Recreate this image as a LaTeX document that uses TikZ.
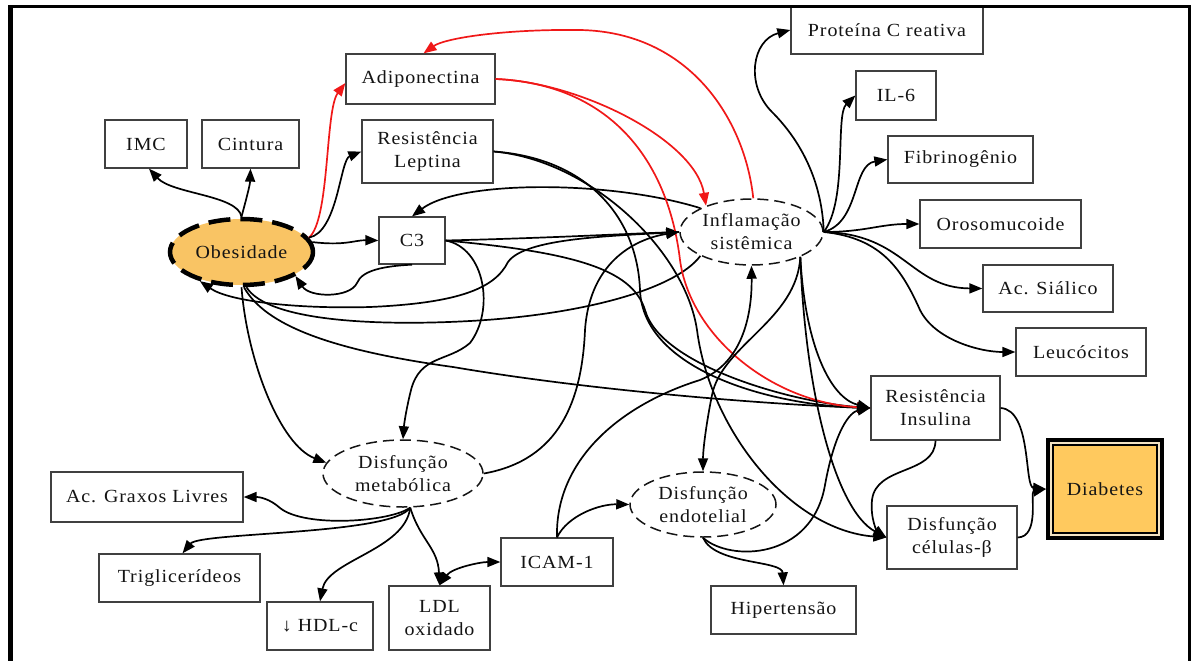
\documentclass[tikz,border=0pt]{standalone}
\usepackage{fontspec}
\setmainfont{Liberation Serif}[FakeStretch=1.08,LetterSpace=5]
\usetikzlibrary{arrows.meta,shapes.geometric,calc}
\definecolor{obfill}{HTML}{F9C464}
\definecolor{dbfill}{HTML}{FFC95E}
\definecolor{dbcream}{HTML}{F3E3C3}
\definecolor{bgray}{HTML}{404040}
\definecolor{txt}{HTML}{141414}
\definecolor{redl}{HTML}{F01818}
\begin{document}
\begin{tikzpicture}[x=1pt,y=-1pt,
  fs/.style={font=\fontsize{18.5}{23}\selectfont, text=txt},
  boxn/.style={fs, draw=bgray, line width=1.3pt, fill=white, inner sep=0pt, align=center},
  dell/.style={fs, ellipse, draw=txt, line width=1.5pt, dash pattern=on 11pt off 6pt, inner sep=0pt, align=center},
  edge/.style={line width=1.7pt, draw=black, -{Triangle[length=13pt,width=10pt]}},
  redge/.style={edge, draw=redl},
  plainedge/.style={line width=1.7pt, draw=black},
  dedge/.style={line width=1.7pt, draw=black, {Triangle[length=13pt,width=10pt]}-{Triangle[length=13pt,width=10pt]}},
]
\useasboundingbox (0,0) rectangle (1191,661);

% nodes
\node[boxn, minimum width=149, minimum height=50] (adip) at (420.5,79) {Adiponectina};
\node[boxn, minimum width=131, minimum height=63] (rlep) at (427.5,151.5) {Resistência\\Leptina};
\node[boxn, minimum width=66, minimum height=47] (c3) at (412,240.5) {C3};
\node[boxn, minimum width=82, minimum height=48] (imc) at (146,144) {IMC};
\node[boxn, minimum width=97, minimum height=48] (cint) at (250.5,144) {Cintura};
\node[fs, ellipse, draw=black, fill=obfill, line width=4.5pt, dash pattern=on 22pt off 10pt, minimum width=143, minimum height=66, inner sep=0pt] (obes) at (241.5,252) {Obesidade};
\node[boxn, minimum width=192, minimum height=48] (pcr) at (887,30) {Proteína C reativa};
\node[boxn, minimum width=80, minimum height=49] (il6) at (896,95.5) {IL-6};
\node[boxn, minimum width=145, minimum height=47] (fib) at (960.5,159.5) {Fibrinogênio};
\node[boxn, minimum width=161, minimum height=48] (oros) at (1000.5,224) {Orosomucoide};
\node[boxn, minimum width=130, minimum height=47] (acs) at (1048,288.5) {Ac. Siálico};
\node[boxn, minimum width=130, minimum height=48] (leuc) at (1081,352) {Leucócitos};
\node[boxn, minimum width=129, minimum height=64] (ri) at (935.5,408) {Resistência\\Insulina};
\node[draw=black, line width=4pt, fill=dbcream, minimum width=114, minimum height=98, inner sep=0pt] (diabo) at (1105,489) {};
\node[boxn, draw=black, line width=1.5pt, fill=dbfill, minimum width=104, minimum height=88] (diab) at (1105,489) {Diabetes};
\node[boxn, minimum width=130, minimum height=63] (dcb) at (952,537.5) {Disfunção\\células-β};
\node[boxn, minimum width=145, minimum height=48] (hip) at (783.5,610) {Hipertensão};
\node[boxn, minimum width=112, minimum height=48] (icam) at (557,562) {ICAM-1};
\node[boxn, minimum width=101, minimum height=64] (ldl) at (439.5,618) {LDL\\oxidado};
\node[boxn, minimum width=106, minimum height=48] (hdl) at (320,626) {↓ HDL-c};
\node[boxn, minimum width=161, minimum height=48] (trig) at (179.5,578) {Triglicerídeos};
\node[boxn, minimum width=192, minimum height=50] (agl) at (147,497) {Ac. Graxos Livres};
\node[dell, minimum width=160, minimum height=67] (dm) at (403,473.5) {Disfunção\\metabólica};
\node[dell, minimum width=143, minimum height=66] (infl) at (751.5,232) {Inflamação\\sistêmica};
\node[dell, minimum width=146, minimum height=65] (de) at (703,504.5) {Disfunção\\endotelial};

% edges from Obesidade
\draw[edge] (obes.north) .. controls (238,195) and (172,194) .. ($(imc.south)+(3,0)$);
\draw[edge] (obes.north) .. controls (246,200) and (250,185) .. (cint.south);
\draw[redge] (obes.12) .. controls (330,220) and (325,110) .. ($(adip.west)+(0,4)$);
\draw[edge] (obes.12) .. controls (338,232) and (340,160) .. (rlep.west);
\draw[edge] (obes.8) .. controls (345,246) and (355,240) .. (c3.west);
\draw[edge] (c3.south) .. controls (385,266) and (362,270) .. (357,283) .. controls (350,298) and (310,298) .. (obes.-24);
\draw[edge] (infl.west) .. controls (610,236) and (525,238) .. (508,262) .. controls (495,288) and (460,303) .. (370,307) .. controls (300,309) and (230,302) .. (obes.-145);
\draw[plainedge] (obes.-82) .. controls (268,322) and (380,326) .. (470,321) .. controls (580,315) and (675,290) .. (infl.-155);
\draw[edge] (obes.-86) .. controls (265,325) and (330,350) .. (453,367) .. controls (600,392) and (780,405) .. (ri.west);
\draw[edge] (obes.-90) .. controls (247,360) and (280,445) .. (dm.172);

% C3
\draw[edge] (c3.east) .. controls (485,248) and (495,310) .. (470,343) .. controls (448,362) and (420,355) .. (411,390) .. controls (406,410) and (404,425) .. (dm.north);
\draw[edge] (c3.east) .. controls (550,238) and (620,234) .. (infl.west);
\draw[edge] (c3.east) .. controls (570,252) and (632,268) .. (645,310) .. controls (660,365) and (790,402) .. (ri.west);
\draw[edge] (infl.155) .. controls (610,180) and (460,180) .. (c3.north);

% Resistencia Leptina
\draw[edge] (rlep.east) .. controls (585,158) and (637,215) .. (640,290) .. controls (643,370) and (770,405) .. (ri.west);
\draw[edge] (rlep.east) .. controls (590,160) and (685,250) .. (697,330) .. controls (710,430) and (790,530) .. (dcb.west);

% red adiponectina
\draw[redge] (infl.87) .. controls (745,120) and (690,32) .. (580,30) .. controls (505,29) and (445,38) .. ($(adip.north)+(3,0)$);
\draw[redge] (adip.east) .. controls (580,82) and (695,140) .. (infl.150);
\draw[redge] (adip.east) .. controls (610,84) and (668,160) .. (680,260) .. controls (690,335) and (770,402) .. (ri.west);

% inflamacao fan
\draw[edge] (infl.east) .. controls (822,180) and (800,140) .. (772,112) .. controls (745,85) and (752,40) .. (pcr.west);
\draw[edge] (infl.east) .. controls (848,200) and (835,115) .. (il6.west);
\draw[edge] (infl.east) .. controls (860,222) and (852,165) .. (fib.west);
\draw[edge] (infl.east) .. controls (865,232) and (880,224) .. (oros.west);
\draw[edge] (infl.east) .. controls (905,234) and (910,288) .. (acs.west);
\draw[edge] (infl.east) .. controls (882,238) and (902,270) .. (920,310) .. controls (935,340) and (980,352) .. (leuc.west);
\draw[edge] (infl.-27) .. controls (797,320) and (722,345) .. (712,395) .. controls (706,425) and (703,450) .. (de.north);
\draw[edge] (infl.-27) .. controls (805,345) and (830,398) .. (ri.west);
\draw[edge] (infl.-27) .. controls (805,390) and (835,510) .. (dcb.west);

% metabolic / endothelial
\draw[edge] (dm.east) .. controls (560,460) and (582,400) .. (585,330) .. controls (590,258) and (640,238) .. (infl.west);
\draw[edge] (icam.north) .. controls (555,460) and (620,405) .. (700,380) .. controls (745,362) and (752,310) .. (infl.south);
\draw[edge] (icam.north) .. controls (568,515) and (600,504) .. (de.west);
\draw[dedge] (ldl.north) .. controls (452,568) and (480,562) .. (icam.west);
\draw[edge] (dm.-78) .. controls (420,540) and (438,548) .. (ldl.north);
\draw[edge] (dm.-78) .. controls (405,550) and (328,560) .. (hdl.north);
\draw[edge] (dm.-78) .. controls (392,535) and (200,532) .. ($(trig.north)+(3,0)$);
\draw[edge] (dm.-78) .. controls (390,522) and (305,528) .. (280,508) .. controls (270,499) and (260,497) .. (agl.east);
\draw[edge] (de.south) .. controls (715,565) and (782,560) .. (hip.north);
\draw[edge] (de.south) .. controls (730,562) and (812,560) .. (825,485) .. controls (835,430) and (850,412) .. (ri.west);

% diabetes
\draw[edge] (ri.east) .. controls (1032,410) and (1024,487) .. (diabo.west);
\draw[edge] (dcb.east) .. controls (1040,537) and (1030,492) .. (diabo.west);
\draw[edge] (ri.south) .. controls (935,475) and (876,465) .. (872,500) .. controls (870,520) and (878,532) .. (dcb.west);

% frame
\fill[black] (8.3,5) rectangle (1191,8.5);
\fill[black] (8.3,5) rectangle (12.7,661);
\fill[black] (1188.3,5) rectangle (1190.8,661);
\end{tikzpicture}
\end{document}
